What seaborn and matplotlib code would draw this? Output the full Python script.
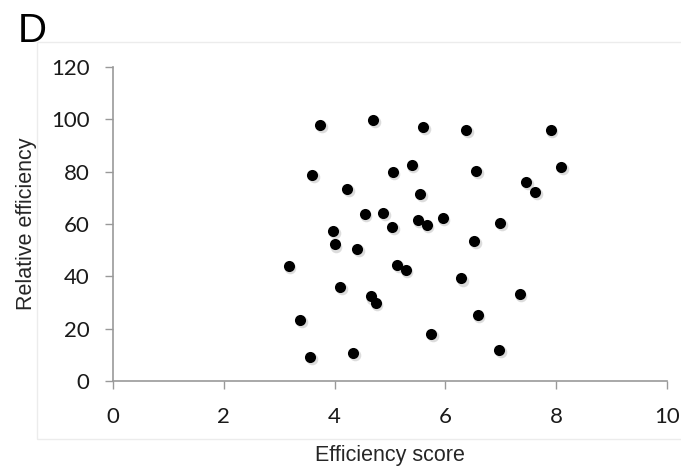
import matplotlib
matplotlib.use("Agg")
import matplotlib.pyplot as plt
import matplotlib.patches as mpatches
import seaborn as sns
import pandas as pd

efficiency_score = [3.74, 4.70, 5.60, 6.37, 7.90,
                    3.60, 4.23, 5.05, 5.39, 6.55, 8.09, 7.46, 7.62, 5.55,
                    4.54, 4.88, 5.04, 5.50, 5.66, 5.95, 6.99, 3.97, 6.52,
                    4.00, 4.41, 5.13, 5.28, 6.29, 4.10, 4.65, 4.74, 7.34,
                    6.58, 5.74, 4.33, 6.97, 3.56, 3.17, 3.38]
relative_efficiency = [98.0, 99.9, 97.2, 95.8, 95.8,
                       78.6, 73.4, 79.9, 82.6, 80.3, 81.7, 76.2, 72.1, 71.5,
                       63.7, 64.1, 58.9, 61.7, 59.5, 62.3, 60.3, 57.3, 53.5,
                       52.2, 50.4, 44.4, 42.4, 39.2, 35.9, 32.3, 29.9, 33.2,
                       25.1, 17.9, 10.8, 11.8, 9.2, 43.8, 23.4]
x_ticks = [0, 2, 4, 6, 8, 10]
y_ticks = [0, 20, 40, 60, 80, 100, 120]

df = pd.DataFrame({"Efficiency score": efficiency_score,
                   "Relative efficiency": relative_efficiency})

sns.set_style("white")
plt.rcParams["font.family"] = ["Lato", "DejaVu Sans"]

fig = plt.figure(figsize=(6.81, 4.70), dpi=100)
# faint chart frame
fig.patches.append(mpatches.Rectangle((37 / 681, 1 - 439 / 470), 1.0, (439 - 42) / 470,
                                      transform=fig.transFigure, fill=False,
                                      edgecolor="#ececec", linewidth=1.0))
ax = fig.add_axes([113 / 681, 1 - 381 / 470, (667 - 113) / 681, (381 - 67) / 470])

# soft shadow
ax.scatter([x + 0.03 for x in efficiency_score], [y - 0.8 for y in relative_efficiency],
           s=70, color="#bbbbbb", alpha=0.5, linewidths=0, zorder=2)
sns.scatterplot(data=df, x="Efficiency score", y="Relative efficiency", ax=ax,
                color="black", s=64, edgecolor="black", linewidth=0, zorder=3)

ax.set_xlim(0, 10)
ax.set_ylim(0, 120)
ax.set_xticks(x_ticks)
ax.set_yticks(y_ticks)
ax.set_xticklabels([str(t) for t in x_ticks])
ax.set_yticklabels([str(t) for t in y_ticks])

for s in ["top", "right"]:
    ax.spines[s].set_visible(False)
for s in ["left", "bottom"]:
    ax.spines[s].set_color("#999999")
    ax.spines[s].set_linewidth(1.2)

ax.tick_params(axis="both", which="major", direction="out", length=6, width=1.0,
               color="#999999", labelsize=16, labelcolor="#1a1a1a")
ax.tick_params(axis="y", pad=11, left=True)
ax.tick_params(axis="x", pad=13, bottom=True)

ax.set_xlabel("Efficiency score", fontsize=15.5, family=["Liberation Sans"])
ax.set_ylabel("Relative efficiency", fontsize=15.5, family=["Liberation Sans"])
ax.xaxis.set_label_coords(0.5, -0.205)
ax.yaxis.set_label_coords(-0.138, 0.5)

fig.text(18 / 681, 1 - 12 / 470, "D", fontsize=29, family=["Liberation Sans"],
         ha="left", va="top", color="black")

fig.savefig("out.png", dpi=100)
